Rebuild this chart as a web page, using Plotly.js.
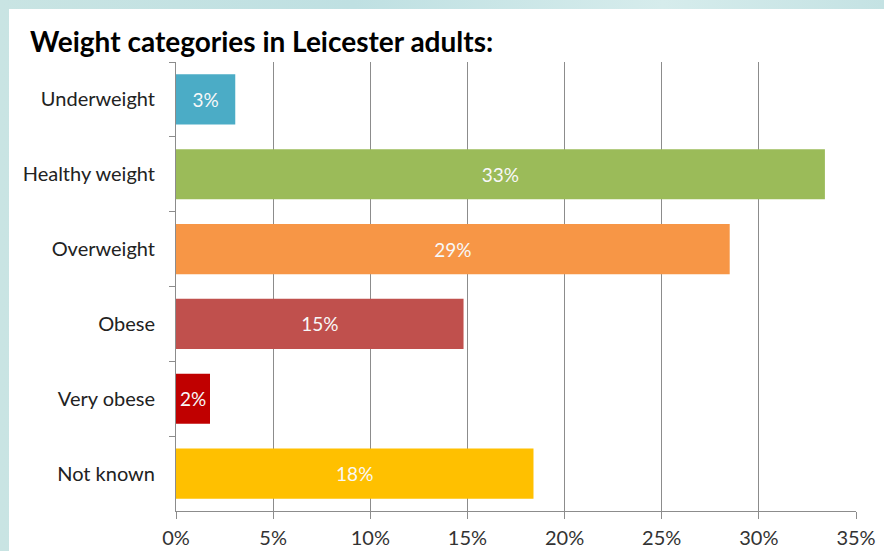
<!DOCTYPE html>
<html>
<head>
<meta charset="utf-8">
<script src="https://cdn.plot.ly/plotly-3.0.1.min.js"></script>
<style>
html,body{margin:0;padding:0;}
#wrap{position:relative;width:884px;height:551px;overflow:hidden;
background:linear-gradient(90deg,#c9e4e3 0%,#bfe0e2 40%,#d6ecec 75%,#c4e2e3 100%);}
#chart{position:absolute;left:9px;top:9px;width:875px;height:542px;}
</style>
</head>
<body>
<div id="wrap"><div id="chart"></div></div>
<script>
const categories = ["Underweight","Healthy weight","Overweight","Obese","Very obese","Not known"];
const values = [3.05, 33.4, 28.5, 14.8, 1.75, 18.4];
const labels = ["3%","33%","29%","15%","2%","18%"];
const colors = ["#4bacc6","#9bbb59","#f79646","#c0504d","#c00000","#ffc000"];
const xTicks = [0,5,10,15,20,25,30,35];

const FONT = "Lato, 'Open Sans', sans-serif";

const trace = {
  type: "bar",
  orientation: "h",
  y: categories,
  x: values,
  text: labels,
  textposition: "inside",
  insidetextanchor: "middle",
  constraintext: "none",
  textangle: 0,
  textfont: {family: FONT, size: 19, color: "#f8f8f8"},
  marker: {color: colors},
  hoverinfo: "none",
  cliponaxis: false
};

const layout = {
  width: 875, height: 542,
  margin: {l: 167, r: 28, t: 53, b: 40},
  paper_bgcolor: "#ffffff",
  plot_bgcolor: "#ffffff",
  showlegend: false,
  bargap: 0.33,
  title: {
    text: "<b>Weight categories in Leicester adults:</b>",
    x: 0.024, xref: "container", xanchor: "left",
    y: 0.939, yref: "container", yanchor: "middle",
    pad: {t: 0, l: 0},
    font: {family: FONT, size: 28, color: "#000000"}
  },
  xaxis: {
    range: [0, 35],
    tickvals: xTicks,
    ticktext: xTicks.map(v => v + "%"),
    showgrid: true, gridcolor: "#8c8c8c", gridwidth: 1,
    showline: true, linecolor: "#8c8c8c", linewidth: 1,
    ticks: "outside", ticklen: 7, tickcolor: "#8c8c8c",
    ticklabelstandoff: 2,
    zeroline: false,
    tickfont: {family: FONT, size: 20, color: "#333333"},
    fixedrange: true
  },
  yaxis: {
    type: "category",
    categoryorder: "array",
    categoryarray: categories,
    autorange: "reversed",
    showline: true, linecolor: "#8c8c8c", linewidth: 1,
    ticks: "outside", tickson: "boundaries", ticklen: 6, tickcolor: "#8c8c8c",
    showgrid: false,
    ticklabelstandoff: 16,
    tickfont: {family: FONT, size: 20, color: "#222222"},
    fixedrange: true
  }
};

Plotly.newPlot("chart", [trace], layout, {displayModeBar: false, staticPlot: true});
</script>
</body>
</html>
